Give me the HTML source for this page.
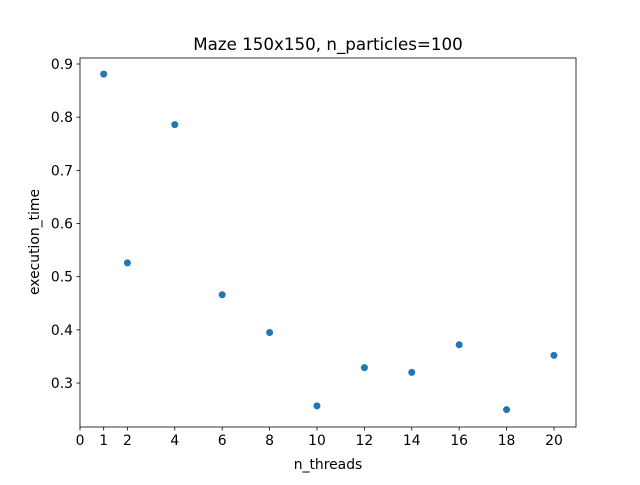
<!DOCTYPE html>
<html><head><meta charset="utf-8"><style>
body{margin:0;background:#fff;}
svg text{font-family:"DejaVu Sans","Liberation Sans",sans-serif;fill:#000;}
</style></head><body>
<svg id="chart" width="640" height="480">
<rect width="640" height="480" fill="#fff"/>
<text x="328" y="50" font-size="16.7" text-anchor="middle">Maze 150x150, n_particles=100</text>
<g id="marks"></g>
<g id="axes"></g>
<text x="328" y="469" font-size="13.9" text-anchor="middle">n_threads</text>
<text x="0" y="0" font-size="13.9" text-anchor="middle" transform="translate(39,242) rotate(-90)">execution_time</text>
</svg>
<script>
const threads=[1,2,4,6,8,10,12,14,16,18,20];
const times=[0.881,0.526,0.786,0.466,0.395,0.257,0.329,0.320,0.372,0.250,0.352];
const xTicks=[0,1,2,4,6,8,10,12,14,16,18,20];
const yTicks=[0.3,0.4,0.5,0.6,0.7,0.8,0.9];
const L=80,R=576,T=58,B=427;
const xMin=0,xMax=20.93,yMin=0.2173,yMax=0.9113;
const sx=v=>L+(v-xMin)/(xMax-xMin)*(R-L);
const sy=v=>B-(v-yMin)/(yMax-yMin)*(B-T);
const NS="http://www.w3.org/2000/svg";
const marks=document.getElementById('marks'),axes=document.getElementById('axes');
function mk(tag,attrs,parent){const e=document.createElementNS(NS,tag);for(const k in attrs)e.setAttribute(k,attrs[k]);parent.appendChild(e);return e;}
threads.forEach((t,i)=>{
 const c=mk('circle',{cx:sx(t),cy:sy(times[i]),r:3.5,fill:'#1f77b4'},marks);
 
 
});
const frame=mk('rect',{x:L,y:T,width:R-L,height:B-T,fill:'none',stroke:'#000','stroke-width':0.8},axes);


xTicks.forEach(v=>{
 const x=sx(v);
 mk('line',{x1:x,x2:x,y1:B,y2:B+3.5,stroke:'#000','stroke-width':0.8},axes);
 const tx=mk('text',{x:x,y:B+18,'font-size':13.9,'text-anchor':'middle'},axes);
 tx.textContent=v;
 
 
});
yTicks.forEach(v=>{
 const y=sy(v);
 mk('line',{x1:L-3.5,x2:L,y1:y,y2:y,stroke:'#000','stroke-width':0.8},axes);
 const tx=mk('text',{x:L-7,y:y+5,'font-size':13.9,'text-anchor':'end'},axes);
 tx.textContent=v.toFixed(1);
 
 
});
</script>
</body></html>
